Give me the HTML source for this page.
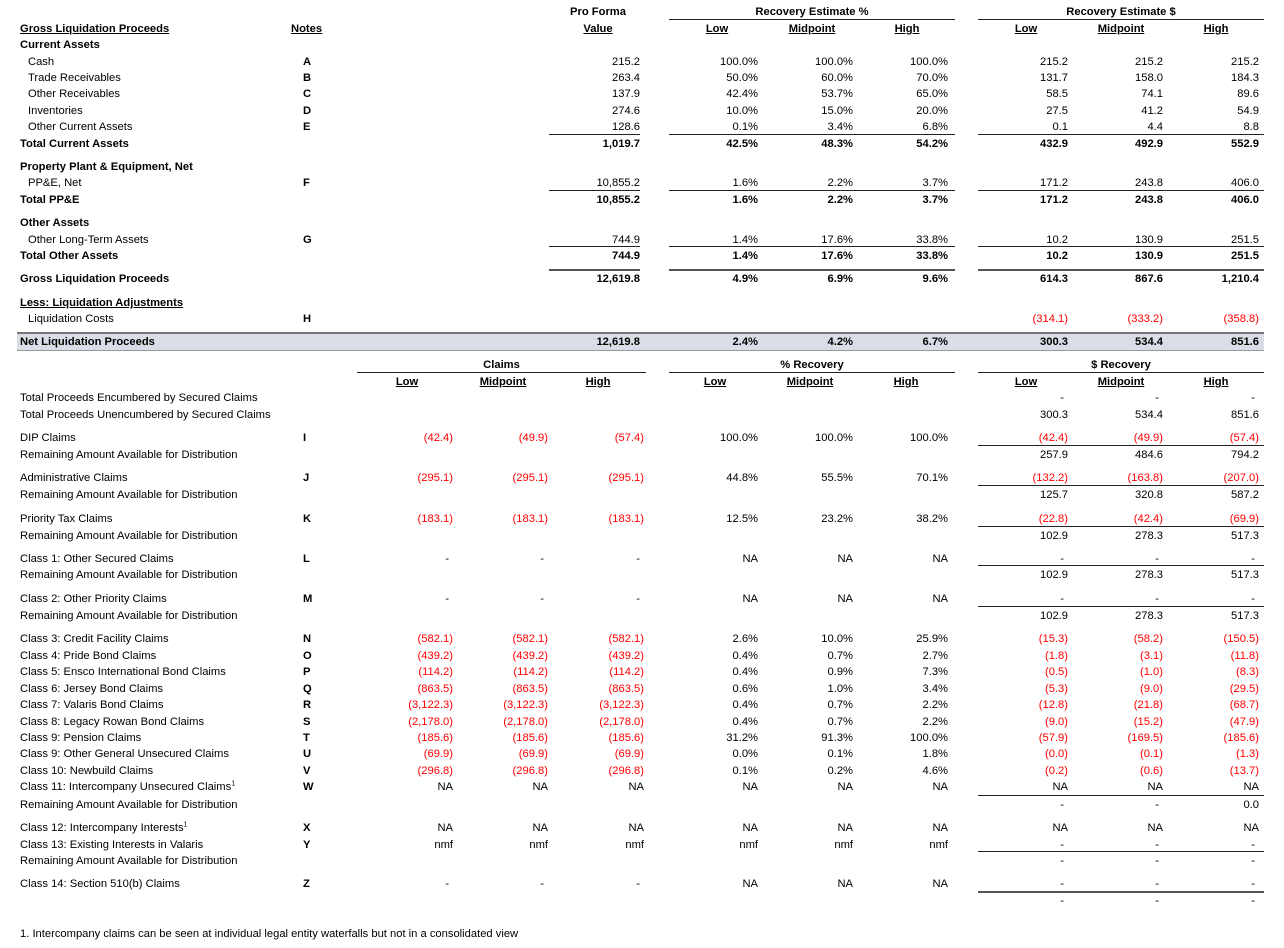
<!DOCTYPE html>
<html><head><meta charset="utf-8"><style>
body{margin:0;background:#fff;}
#w{position:relative;width:1284px;height:948px;overflow:hidden;font-family:"Liberation Sans",Arial,sans-serif;font-size:11.2px;color:#000;}
.r{position:absolute;left:0;width:1284px;height:14px;line-height:14px;margin-top:1px;}
.r span{position:absolute;white-space:nowrap;}
.b{font-weight:bold;}
.u{text-decoration:underline;}
.L{left:20px}.I{left:28px}.N{left:303px;font-weight:bold}
.p{right:644px}.a1{right:526px}.a2{right:431px}.a3{right:336px}
.b1{right:216px}.b2{right:121px}.b3{right:25px}
.k1{right:831px}.k2{right:736px}.k3{right:640px}
.d{padding-right:4px}
.red{color:#f00}
.ln{position:absolute;height:0;border-top:1px solid #222;}
.hc{position:absolute;text-align:center;font-weight:bold;white-space:nowrap;line-height:14px;height:14px;margin-top:1px;}
sup{font-size:7px;line-height:0;}
</style></head><body><div id="w">

<div class="hc" style="left:548px;width:100px;top:4px">Pro Forma</div>
<div class="hc u" style="left:548px;width:100px;top:21px">Value</div>
<div class="hc" style="left:669px;width:286px;top:4px">Recovery Estimate %</div>
<div class="ln" style="left:669px;width:286px;top:19px"></div>
<div class="hc u" style="left:667px;width:100px;top:21px">Low</div>
<div class="hc u" style="left:762px;width:100px;top:21px">Midpoint</div>
<div class="hc u" style="left:857px;width:100px;top:21px">High</div>
<div class="hc" style="left:978px;width:286px;top:4px">Recovery Estimate $</div>
<div class="ln" style="left:978px;width:286px;top:19px"></div>
<div class="hc u" style="left:976px;width:100px;top:21px">Low</div>
<div class="hc u" style="left:1071px;width:100px;top:21px">Midpoint</div>
<div class="hc u" style="left:1166px;width:100px;top:21px">High</div>
<div class="r" style="top:21px"><span class="L b u">Gross Liquidation Proceeds</span><span class="N u" style="left:291px">Notes</span></div>
<div class="r" style="top:37px"><span class="L b">Current Assets</span></div>

<div class="r" style="top:54px"><span class="I">Cash</span><span class="N">A</span><span class="p">215.2</span><span class="a1">100.0%</span><span class="a2">100.0%</span><span class="a3">100.0%</span><span class="b1">215.2</span><span class="b2">215.2</span><span class="b3">215.2</span></div>
<div class="r" style="top:70px"><span class="I">Trade Receivables</span><span class="N">B</span><span class="p">263.4</span><span class="a1">50.0%</span><span class="a2">60.0%</span><span class="a3">70.0%</span><span class="b1">131.7</span><span class="b2">158.0</span><span class="b3">184.3</span></div>
<div class="r" style="top:86px"><span class="I">Other Receivables</span><span class="N">C</span><span class="p">137.9</span><span class="a1">42.4%</span><span class="a2">53.7%</span><span class="a3">65.0%</span><span class="b1">58.5</span><span class="b2">74.1</span><span class="b3">89.6</span></div>
<div class="r" style="top:103px"><span class="I">Inventories</span><span class="N">D</span><span class="p">274.6</span><span class="a1">10.0%</span><span class="a2">15.0%</span><span class="a3">20.0%</span><span class="b1">27.5</span><span class="b2">41.2</span><span class="b3">54.9</span></div>
<div class="r" style="top:119px"><span class="I">Other Current Assets</span><span class="N">E</span><span class="p">128.6</span><span class="a1">0.1%</span><span class="a2">3.4%</span><span class="a3">6.8%</span><span class="b1">0.1</span><span class="b2">4.4</span><span class="b3">8.8</span></div>
<div class="ln" style="left:549px;width:91px;top:134px"></div><div class="ln" style="left:669px;width:286px;top:134px"></div><div class="ln" style="left:978px;width:286px;top:134px"></div>
<div class="r b" style="top:136px"><span class="L">Total Current Assets</span><span class="p">1,019.7</span><span class="a1">42.5%</span><span class="a2">48.3%</span><span class="a3">54.2%</span><span class="b1">432.9</span><span class="b2">492.9</span><span class="b3">552.9</span></div>

<div class="r" style="top:159px"><span class="L b">Property Plant &amp; Equipment, Net</span></div>
<div class="r" style="top:175px"><span class="I">PP&amp;E, Net</span><span class="N">F</span><span class="p">10,855.2</span><span class="a1">1.6%</span><span class="a2">2.2%</span><span class="a3">3.7%</span><span class="b1">171.2</span><span class="b2">243.8</span><span class="b3">406.0</span></div>
<div class="ln" style="left:549px;width:91px;top:190px"></div><div class="ln" style="left:669px;width:286px;top:190px"></div><div class="ln" style="left:978px;width:286px;top:190px"></div>
<div class="r b" style="top:192px"><span class="L">Total PP&amp;E</span><span class="p">10,855.2</span><span class="a1">1.6%</span><span class="a2">2.2%</span><span class="a3">3.7%</span><span class="b1">171.2</span><span class="b2">243.8</span><span class="b3">406.0</span></div>

<div class="r" style="top:215px"><span class="L b">Other Assets</span></div>
<div class="r" style="top:232px"><span class="I">Other Long-Term Assets</span><span class="N">G</span><span class="p">744.9</span><span class="a1">1.4%</span><span class="a2">17.6%</span><span class="a3">33.8%</span><span class="b1">10.2</span><span class="b2">130.9</span><span class="b3">251.5</span></div>
<div class="ln" style="left:549px;width:91px;top:246px"></div><div class="ln" style="left:669px;width:286px;top:246px"></div><div class="ln" style="left:978px;width:286px;top:246px"></div>
<div class="r b" style="top:248px"><span class="L">Total Other Assets</span><span class="p">744.9</span><span class="a1">1.4%</span><span class="a2">17.6%</span><span class="a3">33.8%</span><span class="b1">10.2</span><span class="b2">130.9</span><span class="b3">251.5</span></div>
<div class="ln" style="left:549px;width:91px;top:269px;border-top:2px solid #555"></div><div class="ln" style="left:669px;width:286px;top:269px;border-top:2px solid #555"></div><div class="ln" style="left:978px;width:286px;top:269px;border-top:2px solid #555"></div>
<div class="r b" style="top:271px"><span class="L">Gross Liquidation Proceeds</span><span class="p">12,619.8</span><span class="a1">4.9%</span><span class="a2">6.9%</span><span class="a3">9.6%</span><span class="b1">614.3</span><span class="b2">867.6</span><span class="b3">1,210.4</span></div>

<div class="r" style="top:295px"><span class="L b u">Less: Liquidation Adjustments</span></div>
<div class="r" style="top:311px"><span class="I">Liquidation Costs</span><span class="N">H</span><span class="b1 red">(314.1)</span><span class="b2 red">(333.2)</span><span class="b3 red">(358.8)</span></div>

<div style="position:absolute;left:17px;width:1247px;top:332px;height:16px;background:#d9dee6;border-top:2px solid #777;border-bottom:1px solid #999"></div>
<div class="r b" style="top:334px"><span class="L">Net Liquidation Proceeds</span><span class="p">12,619.8</span><span class="a1">2.4%</span><span class="a2">4.2%</span><span class="a3">6.7%</span><span class="b1">300.3</span><span class="b2">534.4</span><span class="b3">851.6</span></div>

<div class="hc" style="left:357px;width:289px;top:357px">Claims</div>
<div class="ln" style="left:357px;width:289px;top:372px"></div>
<div class="hc u" style="left:357px;width:100px;top:374px">Low</div>
<div class="hc u" style="left:453px;width:100px;top:374px">Midpoint</div>
<div class="hc u" style="left:548px;width:100px;top:374px">High</div>
<div class="hc" style="left:669px;width:286px;top:357px">% Recovery</div>
<div class="ln" style="left:669px;width:286px;top:372px"></div>
<div class="hc u" style="left:665px;width:100px;top:374px">Low</div>
<div class="hc u" style="left:760px;width:100px;top:374px">Midpoint</div>
<div class="hc u" style="left:856px;width:100px;top:374px">High</div>
<div class="hc" style="left:978px;width:286px;top:357px">$ Recovery</div>
<div class="ln" style="left:978px;width:286px;top:372px"></div>
<div class="hc u" style="left:976px;width:100px;top:374px">Low</div>
<div class="hc u" style="left:1071px;width:100px;top:374px">Midpoint</div>
<div class="hc u" style="left:1166px;width:100px;top:374px">High</div>

<div class="r" style="top:390px"><span class="L">Total Proceeds Encumbered by Secured Claims</span><span class="b1 d">-</span><span class="b2 d">-</span><span class="b3 d">-</span></div>
<div class="r" style="top:407px"><span class="L">Total Proceeds Unencumbered by Secured Claims</span><span class="b1">300.3</span><span class="b2">534.4</span><span class="b3">851.6</span></div>

<div class="r" style="top:430px"><span class="L">DIP Claims</span><span class="N">I</span><span class="k1 red">(42.4)</span><span class="k2 red">(49.9)</span><span class="k3 red">(57.4)</span><span class="a1">100.0%</span><span class="a2">100.0%</span><span class="a3">100.0%</span><span class="b1 red">(42.4)</span><span class="b2 red">(49.9)</span><span class="b3 red">(57.4)</span></div>
<div class="ln" style="left:978px;width:286px;top:445px"></div>
<div class="r" style="top:447px"><span class="L">Remaining Amount Available for Distribution</span><span class="b1">257.9</span><span class="b2">484.6</span><span class="b3">794.2</span></div>

<div class="r" style="top:470px"><span class="L">Administrative Claims</span><span class="N">J</span><span class="k1 red">(295.1)</span><span class="k2 red">(295.1)</span><span class="k3 red">(295.1)</span><span class="a1">44.8%</span><span class="a2">55.5%</span><span class="a3">70.1%</span><span class="b1 red">(132.2)</span><span class="b2 red">(163.8)</span><span class="b3 red">(207.0)</span></div>
<div class="ln" style="left:978px;width:286px;top:485px"></div>
<div class="r" style="top:487px"><span class="L">Remaining Amount Available for Distribution</span><span class="b1">125.7</span><span class="b2">320.8</span><span class="b3">587.2</span></div>

<div class="r" style="top:511px"><span class="L">Priority Tax Claims</span><span class="N">K</span><span class="k1 red">(183.1)</span><span class="k2 red">(183.1)</span><span class="k3 red">(183.1)</span><span class="a1">12.5%</span><span class="a2">23.2%</span><span class="a3">38.2%</span><span class="b1 red">(22.8)</span><span class="b2 red">(42.4)</span><span class="b3 red">(69.9)</span></div>
<div class="ln" style="left:978px;width:286px;top:526px"></div>
<div class="r" style="top:528px"><span class="L">Remaining Amount Available for Distribution</span><span class="b1">102.9</span><span class="b2">278.3</span><span class="b3">517.3</span></div>

<div class="r" style="top:551px"><span class="L">Class 1: Other Secured Claims</span><span class="N">L</span><span class="k1 d">-</span><span class="k2 d">-</span><span class="k3 d">-</span><span class="a1">NA</span><span class="a2">NA</span><span class="a3">NA</span><span class="b1 d">-</span><span class="b2 d">-</span><span class="b3 d">-</span></div>
<div class="ln" style="left:978px;width:286px;top:565px"></div>
<div class="r" style="top:567px"><span class="L">Remaining Amount Available for Distribution</span><span class="b1">102.9</span><span class="b2">278.3</span><span class="b3">517.3</span></div>

<div class="r" style="top:591px"><span class="L">Class 2: Other Priority Claims</span><span class="N">M</span><span class="k1 d">-</span><span class="k2 d">-</span><span class="k3 d">-</span><span class="a1">NA</span><span class="a2">NA</span><span class="a3">NA</span><span class="b1 d">-</span><span class="b2 d">-</span><span class="b3 d">-</span></div>
<div class="ln" style="left:978px;width:286px;top:606px"></div>
<div class="r" style="top:608px"><span class="L">Remaining Amount Available for Distribution</span><span class="b1">102.9</span><span class="b2">278.3</span><span class="b3">517.3</span></div>

<div class="r" style="top:631px"><span class="L">Class 3: Credit Facility Claims</span><span class="N">N</span><span class="k1 red">(582.1)</span><span class="k2 red">(582.1)</span><span class="k3 red">(582.1)</span><span class="a1">2.6%</span><span class="a2">10.0%</span><span class="a3">25.9%</span><span class="b1 red">(15.3)</span><span class="b2 red">(58.2)</span><span class="b3 red">(150.5)</span></div>
<div class="r" style="top:648px"><span class="L">Class 4: Pride Bond Claims</span><span class="N">O</span><span class="k1 red">(439.2)</span><span class="k2 red">(439.2)</span><span class="k3 red">(439.2)</span><span class="a1">0.4%</span><span class="a2">0.7%</span><span class="a3">2.7%</span><span class="b1 red">(1.8)</span><span class="b2 red">(3.1)</span><span class="b3 red">(11.8)</span></div>
<div class="r" style="top:664px"><span class="L">Class 5: Ensco International Bond Claims</span><span class="N">P</span><span class="k1 red">(114.2)</span><span class="k2 red">(114.2)</span><span class="k3 red">(114.2)</span><span class="a1">0.4%</span><span class="a2">0.9%</span><span class="a3">7.3%</span><span class="b1 red">(0.5)</span><span class="b2 red">(1.0)</span><span class="b3 red">(8.3)</span></div>
<div class="r" style="top:681px"><span class="L">Class 6: Jersey Bond Claims</span><span class="N">Q</span><span class="k1 red">(863.5)</span><span class="k2 red">(863.5)</span><span class="k3 red">(863.5)</span><span class="a1">0.6%</span><span class="a2">1.0%</span><span class="a3">3.4%</span><span class="b1 red">(5.3)</span><span class="b2 red">(9.0)</span><span class="b3 red">(29.5)</span></div>
<div class="r" style="top:697px"><span class="L">Class 7: Valaris Bond Claims</span><span class="N">R</span><span class="k1 red">(3,122.3)</span><span class="k2 red">(3,122.3)</span><span class="k3 red">(3,122.3)</span><span class="a1">0.4%</span><span class="a2">0.7%</span><span class="a3">2.2%</span><span class="b1 red">(12.8)</span><span class="b2 red">(21.8)</span><span class="b3 red">(68.7)</span></div>
<div class="r" style="top:714px"><span class="L">Class 8: Legacy Rowan Bond Claims</span><span class="N">S</span><span class="k1 red">(2,178.0)</span><span class="k2 red">(2,178.0)</span><span class="k3 red">(2,178.0)</span><span class="a1">0.4%</span><span class="a2">0.7%</span><span class="a3">2.2%</span><span class="b1 red">(9.0)</span><span class="b2 red">(15.2)</span><span class="b3 red">(47.9)</span></div>
<div class="r" style="top:730px"><span class="L">Class 9: Pension Claims</span><span class="N">T</span><span class="k1 red">(185.6)</span><span class="k2 red">(185.6)</span><span class="k3 red">(185.6)</span><span class="a1">31.2%</span><span class="a2">91.3%</span><span class="a3">100.0%</span><span class="b1 red">(57.9)</span><span class="b2 red">(169.5)</span><span class="b3 red">(185.6)</span></div>
<div class="r" style="top:746px"><span class="L">Class 9: Other General Unsecured Claims</span><span class="N">U</span><span class="k1 red">(69.9)</span><span class="k2 red">(69.9)</span><span class="k3 red">(69.9)</span><span class="a1">0.0%</span><span class="a2">0.1%</span><span class="a3">1.8%</span><span class="b1 red">(0.0)</span><span class="b2 red">(0.1)</span><span class="b3 red">(1.3)</span></div>
<div class="r" style="top:763px"><span class="L">Class 10: Newbuild Claims</span><span class="N">V</span><span class="k1 red">(296.8)</span><span class="k2 red">(296.8)</span><span class="k3 red">(296.8)</span><span class="a1">0.1%</span><span class="a2">0.2%</span><span class="a3">4.6%</span><span class="b1 red">(0.2)</span><span class="b2 red">(0.6)</span><span class="b3 red">(13.7)</span></div>
<div class="r" style="top:779px"><span class="L">Class 11: Intercompany Unsecured Claims<sup>1</sup></span><span class="N">W</span><span class="k1">NA</span><span class="k2">NA</span><span class="k3">NA</span><span class="a1">NA</span><span class="a2">NA</span><span class="a3">NA</span><span class="b1">NA</span><span class="b2">NA</span><span class="b3">NA</span></div>
<div class="ln" style="left:978px;width:286px;top:795px"></div>
<div class="r" style="top:797px"><span class="L">Remaining Amount Available for Distribution</span><span class="b1 d">-</span><span class="b2 d">-</span><span class="b3">0.0</span></div>

<div class="r" style="top:820px"><span class="L">Class 12: Intercompany Interests<sup>1</sup></span><span class="N">X</span><span class="k1">NA</span><span class="k2">NA</span><span class="k3">NA</span><span class="a1">NA</span><span class="a2">NA</span><span class="a3">NA</span><span class="b1">NA</span><span class="b2">NA</span><span class="b3">NA</span></div>
<div class="r" style="top:837px"><span class="L">Class 13: Existing Interests in Valaris</span><span class="N">Y</span><span class="k1">nmf</span><span class="k2">nmf</span><span class="k3">nmf</span><span class="a1">nmf</span><span class="a2">nmf</span><span class="a3">nmf</span><span class="b1 d">-</span><span class="b2 d">-</span><span class="b3 d">-</span></div>
<div class="ln" style="left:978px;width:286px;top:851px"></div>
<div class="r" style="top:853px"><span class="L">Remaining Amount Available for Distribution</span><span class="b1 d">-</span><span class="b2 d">-</span><span class="b3 d">-</span></div>

<div class="r" style="top:876px"><span class="L">Class 14: Section 510(b) Claims</span><span class="N">Z</span><span class="k1 d">-</span><span class="k2 d">-</span><span class="k3 d">-</span><span class="a1">NA</span><span class="a2">NA</span><span class="a3">NA</span><span class="b1 d">-</span><span class="b2 d">-</span><span class="b3 d">-</span></div>
<div class="ln" style="left:978px;width:286px;top:891px;border-top:2px solid #555"></div>
<div class="r" style="top:893px"><span class="b1 d">-</span><span class="b2 d">-</span><span class="b3 d">-</span></div>

<div class="r" style="top:926px"><span class="L">1. Intercompany claims can be seen at individual legal entity waterfalls but not in a consolidated view</span></div>

</div></body></html>
